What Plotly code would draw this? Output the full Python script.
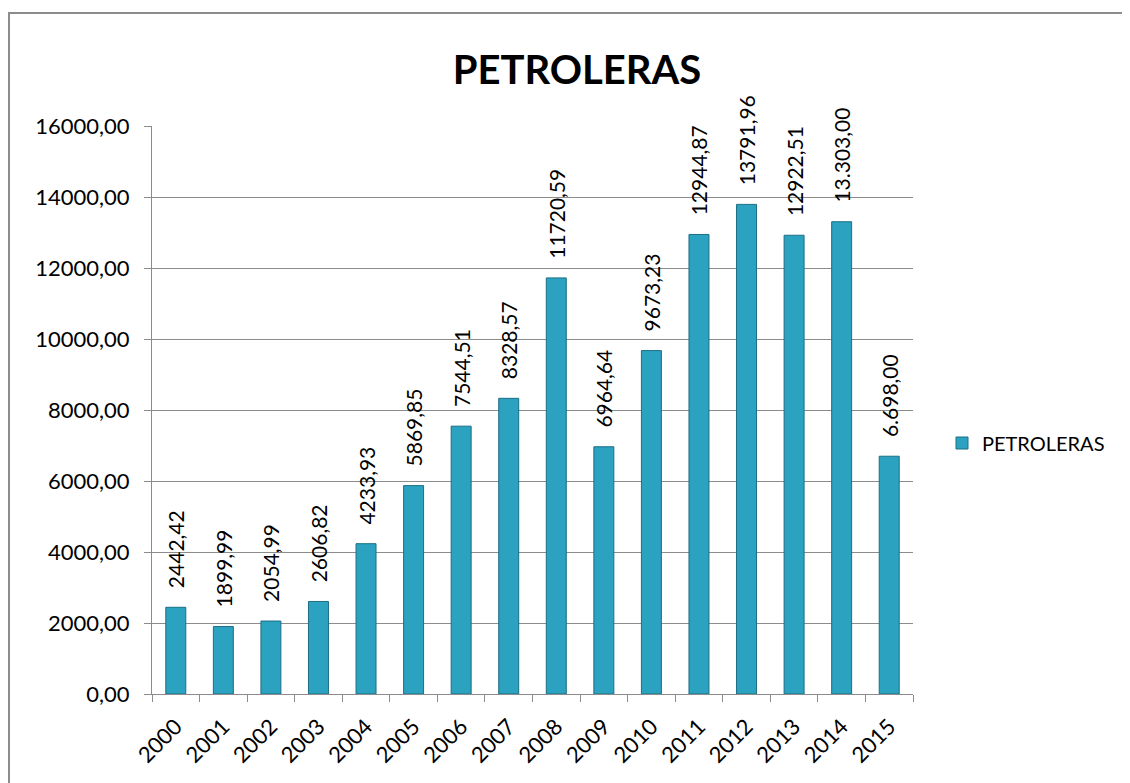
import plotly.graph_objects as go

years = ["2000", "2001", "2002", "2003", "2004", "2005", "2006", "2007",
         "2008", "2009", "2010", "2011", "2012", "2013", "2014", "2015"]
values = [2442.42, 1899.99, 2054.99, 2606.82, 4233.93, 5869.85, 7544.51, 8328.57,
          11720.59, 6964.64, 9673.23, 12944.87, 13791.96, 12922.51, 13303.00, 6698.00]
labels = ["2442,42", "1899,99", "2054,99", "2606,82", "4233,93", "5869,85", "7544,51", "8328,57",
          "11720,59", "6964,64", "9673,23", "12944,87", "13791,96", "12922,51", "13.303,00", "6.698,00"]
series_name = "PETROLERAS"

OFF = 8  # body margin of the page
W, H = 1130 - OFF, 783 - OFF
L, R, T, B = 152 - OFF, 913 - OFF, 126 - OFF, 694 - OFF

def px(x):
    return (x - OFF - L) / (R - L)

def py(y):
    return (B - (y - OFF)) / (B - T)

font_family = "Lato, 'Open Sans', sans-serif"
pad = "\u00a0\u00a0\u00a0"

fig = go.Figure()
fig.add_trace(go.Bar(
    x=years, y=values, name=series_name,
    text=[pad + s for s in labels], textposition="outside", textangle=-90,
    constraintext="none",
    textfont=dict(size=21, color="#000000", family=font_family),
    marker=dict(color="#2AA2C0", line=dict(color="#1C6E85", width=1)),
    cliponaxis=False,
    showlegend=True,
))

fig.update_layout(
    width=W, height=H,
    margin=dict(l=L, r=W - R, t=T, b=H - B, pad=0),
    paper_bgcolor="white", plot_bgcolor="white",
    separators=",.",
    bargap=0.58,
    font=dict(family=font_family, size=21, color="#000000"),
    title=dict(text="<b>PETROLERAS</b>", xref="paper", x=px(577), xanchor="center",
               y=1 - (70 - OFF) / H, yanchor="middle",
               font=dict(size=40, family=font_family, color="#000000")),
    xaxis=dict(
        type="category", tickangle=-45, showgrid=False,
        showline=True, linecolor="#8C8C8C", linewidth=1,
        ticks="outside", ticklen=7, tickcolor="#8C8C8C",
        tickson="boundaries", ticklabelstandoff=10,
        tickfont=dict(size=22, family=font_family),
    ),
    yaxis=dict(
        range=[0, 16000], dtick=2000, tickformat=".2f",
        showgrid=True, gridcolor="#8C8C8C", gridwidth=1,
        showline=True, linecolor="#8C8C8C", linewidth=1,
        ticks="outside", ticklen=7, tickcolor="#8C8C8C",
        ticklabelstandoff=10,
        tickfont=dict(size=22, family=font_family),
        zeroline=False,
    ),
    legend=dict(x=px(942), y=py(443), xanchor="left", yanchor="middle",
                font=dict(size=20, family=font_family), itemwidth=30,
                bgcolor="rgba(0,0,0,0)"),
    shapes=[dict(type="rect", xref="paper", yref="paper",
                 x0=px(9), x1=px(1124), y0=py(790), y1=py(13),
                 line=dict(color="#8C8C8C", width=2), fillcolor="rgba(0,0,0,0)",
                 layer="below")],
)

fig.write_html("out.html")
